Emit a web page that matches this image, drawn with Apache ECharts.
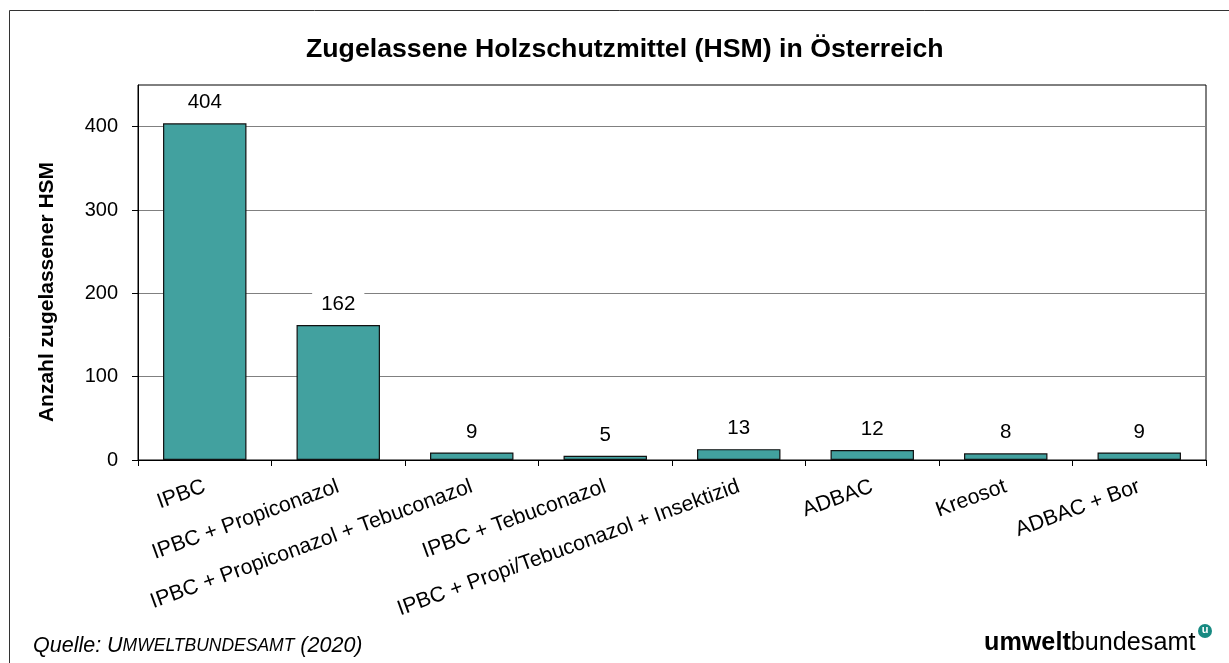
<!DOCTYPE html>
<html>
<head>
<meta charset="utf-8">
<script src="https://cdn.jsdelivr.net/npm/echarts@6/dist/echarts.min.js"></script>
<style>
html,body{margin:0;padding:0;background:#fff;}
#chart{width:1229px;height:663px;}
</style>
</head>
<body>
<div id="chart"></div>
<script>
const categories = ['IPBC', 'IPBC + Propiconazol', 'IPBC + Propiconazol + Tebuconazol', 'IPBC + Tebuconazol', 'IPBC + Propi/Tebuconazol + Insektizid', 'ADBAC', 'Kreosot', 'ADBAC + Bor'];
const values = [404, 162, 9, 5, 13, 12, 8, 9];
const yTicks = [0, 100, 200, 300, 400];
const titleText = 'Zugelassene Holzschutzmittel (HSM) in Österreich';
const yAxisTitle = 'Anzahl zugelassener HSM';

const FONT = 'Liberation Sans, Arial, sans-serif';
const chart = echarts.init(document.getElementById('chart'), null, {renderer: 'canvas'});
chart.setOption({
  animation: false,
  backgroundColor: '#fff',
  textStyle: {fontFamily: FONT, color: '#000'},
  title: {
    text: titleText,
    left: 301, top: 31,
    textStyle: {fontFamily: FONT, fontSize: 26.7, fontWeight: 'bold', color: '#000'}
  },
  grid: {
    left: 138, right: 23, top: 85, bottom: 203,
    show: true, borderColor: '#000', borderWidth: 1, backgroundColor: 'transparent'
  },
  xAxis: {
    type: 'category',
    data: categories,
    axisLine: {lineStyle: {color: '#000', width: 1}},
    axisTick: {show: true, length: 6, lineStyle: {color: '#000'}},
    axisLabel: {interval: 0, rotate: 20, margin: 26, fontSize: 21.3, color: '#000', fontFamily: FONT}
  },
  yAxis: {
    type: 'value',
    min: 0, max: 450, interval: 100,
    axisLine: {show: true, lineStyle: {color: '#000', width: 1}},
    axisTick: {show: true, length: 6, lineStyle: {color: '#000'}, customValues: yTicks},
    axisLabel: {margin: 20, fontSize: 20, color: '#000', fontFamily: FONT, customValues: yTicks},
    splitLine: {show: true, lineStyle: {color: '#808080', width: 1}}
  },
  series: [{
    type: 'bar',
    data: values,
    barCategoryGap: '37.5%',
    itemStyle: {color: '#42A19F', borderColor: '#111', borderWidth: 1.2},
    label: {
      show: true, position: 'top', distance: 8,
      fontSize: 20.5, color: '#000', fontFamily: FONT,
      backgroundColor: '#fff', padding: [2, 9]
    }
  }],
  graphic: [
    {type: 'rect', shape: {x: 9.5, y: 10.5, width: 1300, height: 700}, style: {fill: 'none', stroke: '#333', lineWidth: 1}, silent: true, z: -1},
    {type: 'text', x: 47, y: 292, rotation: Math.PI / 2,
      style: {text: yAxisTitle, font: 'bold 21px ' + FONT, fill: '#000', align: 'center', verticalAlign: 'middle'}},
    {type: 'text', x: 33, y: 646,
      style: {
        text: '{i|Quelle: U}{s|MWELTBUNDESAMT}{i| (2020)}',
        verticalAlign: 'middle',
        rich: {
          i: {fontFamily: FONT, fontStyle: 'italic', fontSize: 21.5, color: '#000'},
          s: {fontFamily: FONT, fontStyle: 'italic', fontSize: 17.5, color: '#000'}
        }
      }},
    {type: 'text', x: 984, y: 643,
      style: {
        text: '{a|umwelt}{b|bundesamt}',
        verticalAlign: 'middle',
        rich: {
          a: {fontFamily: FONT, fontWeight: 'bold', fontSize: 25.2, color: '#178a82'},
          b: {fontFamily: FONT, fontSize: 25.2, color: '#555'}
        }
      }},
    {type: 'circle', shape: {cx: 1205, cy: 631, r: 7}, style: {fill: '#178a82'}},
    {type: 'text', x: 1205, y: 630, style: {text: 'u', font: 'bold 11px ' + FONT, fill: '#fff', align: 'center', verticalAlign: 'middle'}}
  ]
});
</script>
</body>
</html>
